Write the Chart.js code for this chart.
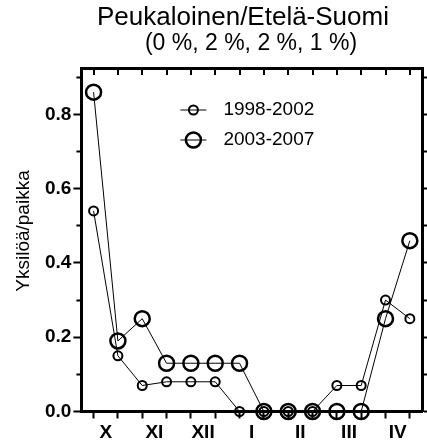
<!DOCTYPE html>
<html>
<head>
<meta charset="utf-8">
<script src="https://cdn.jsdelivr.net/npm/chart.js@4.4.1/dist/chart.umd.min.js"></script>
<style>
  html, body { margin: 0; padding: 0; background: #fff; }
</style>
</head>
<body>
<canvas id="chart" width="427" height="443"></canvas>
<script>
const months = ['X', 'XI', 'XII', 'I', 'II', 'III', 'IV'];
const periods = ['1998-2002', '2003-2007'];
const values1998 = [0.54, 0.15, 0.07, 0.08, 0.08, 0.08, 0, 0, 0, 0, 0.07, 0.07, 0.30, 0.25];
const values2003 = [0.86, 0.19, 0.25, 0.13, 0.13, 0.13, 0.13, 0, 0, 0, 0, 0, 0.25, 0.46];
const yTicks = [0, 0.1, 0.2, 0.3, 0.4, 0.5, 0.6, 0.7, 0.8, 0.9];
const title = 'Peukaloinen/Etelä-Suomi';
const subtitle = '(0 %, 2 %, 2 %, 1 %)';
const yTitle = 'Yksilöä/paikka';

const FONT = '"Liberation Sans", Arial, sans-serif';
Chart.defaults.font.family = FONT;
Chart.defaults.color = '#000';

const Y_MAX = 0.925;
const X_MIN = -0.5;
const X_MAX = values1998.length - 0.5;

const toPoints = vals => vals.map((v, i) => ({ x: i, y: v }));
const isMajor = v => Math.round(v * 10) % 2 === 0;

// half-month slots: integers get tick marks, odd halves carry month names
const xTickValues = [];
for (let i = 0; i < values1998.length; i++) {
  xTickValues.push(i);
  if (i < values1998.length - 1) xTickValues.push(i + 0.5);
}

// titles, y title, legend and the inward ticks of the top frame
const decorations = {
  id: 'decorations',
  afterDraw(chart) {
    const { ctx, chartArea } = chart;
    const x = chart.scales.x;
    ctx.save();
    ctx.fillStyle = '#000';
    ctx.textAlign = 'center';
    ctx.textBaseline = 'middle';
    ctx.font = '26px ' + FONT;
    ctx.fillText(title, 243, 18);
    ctx.font = '23px ' + FONT;
    ctx.fillText(subtitle, 251, 44);

    ctx.save();
    ctx.translate(24, chartArea.top + 163);
    ctx.rotate(-Math.PI / 2);
    ctx.font = '19px ' + FONT;
    ctx.fillText(yTitle, 0, 0);
    ctx.restore();

    ctx.strokeStyle = '#000';
    ctx.lineWidth = 2;
    x.ticks.forEach(t => {
      if (!Number.isInteger(t.value)) return;
      const px = Math.round(x.getPixelForValue(t.value));
      ctx.beginPath();
      ctx.moveTo(px, chartArea.top);
      ctx.lineTo(px, chartArea.top + 7);
      ctx.stroke();
    });

    chart.data.datasets.forEach((ds, i) => {
      const cy = chartArea.top + 42 + i * 30;
      const cx = chartArea.left + 112;
      ctx.lineWidth = ds.borderWidth;
      ctx.beginPath();
      ctx.moveTo(cx - 13, cy);
      ctx.lineTo(cx + 13, cy);
      ctx.stroke();
      ctx.lineWidth = ds.pointBorderWidth;
      ctx.beginPath();
      ctx.arc(cx, cy, ds.pointRadius, 0, Math.PI * 2);
      ctx.stroke();
      ctx.font = '19px ' + FONT;
      ctx.textAlign = 'left';
      ctx.fillText(ds.label, chartArea.left + 142, cy);
    });
    ctx.restore();
  }
};

const setYTicks = scale => { scale.ticks = yTicks.map(v => ({ value: v })); };
const noSidePadding = scale => { scale.paddingLeft = 0; scale.paddingRight = 0; };

new Chart(document.getElementById('chart'), {
  type: 'line',
  data: {
    datasets: [
      {
        label: periods[0],
        data: toPoints(values1998),
        borderColor: '#000',
        borderWidth: 1,
        pointRadius: 4.5,
        pointBorderWidth: 2,
        pointBorderColor: '#000',
        pointBackgroundColor: 'rgba(0,0,0,0)',
        tension: 0,
        fill: false,
        clip: false
      },
      {
        label: periods[1],
        data: toPoints(values2003),
        borderColor: '#000',
        borderWidth: 1,
        pointRadius: 7.5,
        pointBorderWidth: 2.5,
        pointBorderColor: '#000',
        pointBackgroundColor: 'rgba(0,0,0,0)',
        tension: 0,
        fill: false,
        clip: false
      }
    ]
  },
  options: {
    responsive: false,
    animation: false,
    layout: { autoPadding: false, padding: { top: 68, left: 43, right: 0, bottom: -4.5 } },
    plugins: {
      legend: { display: false },
      tooltip: { enabled: false }
    },
    scales: {
      x: {
        type: 'linear',
        position: 'bottom',
        min: X_MIN,
        max: X_MAX,
        afterBuildTicks: scale => { scale.ticks = xTickValues.map(v => ({ value: v })); },
        afterFit: noSidePadding,
        ticks: {
          autoSkip: false,
          maxRotation: 0,
          padding: 5,
          font: { size: 19, weight: 'bold', lineHeight: 1 },
          callback: v => (v % 2 === 0.5 ? months[(v - 0.5) / 2] : '')
        },
        grid: {
          drawOnChartArea: false,
          tickLength: 7,
          tickWidth: 2,
          tickColor: c => (Number.isInteger(c.tick.value) ? '#000' : 'rgba(0,0,0,0)')
        },
        border: { color: '#000', width: 3 }
      },
      x2: {
        type: 'linear',
        position: 'top',
        min: X_MIN,
        max: X_MAX,
        ticks: { display: false },
        grid: { drawOnChartArea: false, drawTicks: false },
        border: { color: '#000', width: 3 }
      },
      y: {
        type: 'linear',
        position: 'left',
        min: 0,
        max: Y_MAX,
        afterBuildTicks: setYTicks,
        ticks: {
          padding: 2,
          font: { size: 19, weight: 'bold' },
          callback: v => (isMajor(v) ? v.toFixed(1) : '')
        },
        grid: {
          drawOnChartArea: false,
          tickLength: 8,
          tickWidth: 2,
          tickColor: '#000',
          tickBorderDash: c => (isMajor(c.tick.value) ? [] : [0, 3, 5, 0])
        },
        border: { color: '#000', width: 3 }
      },
      y2: {
        type: 'linear',
        position: 'right',
        min: 0,
        max: Y_MAX,
        afterBuildTicks: setYTicks,
        ticks: { display: false },
        grid: { drawOnChartArea: false, tickLength: 5, tickWidth: 2, tickColor: '#000' },
        border: { color: '#000', width: 3 }
      }
    }
  },
  plugins: [decorations]
});
</script>
</body>
</html>
